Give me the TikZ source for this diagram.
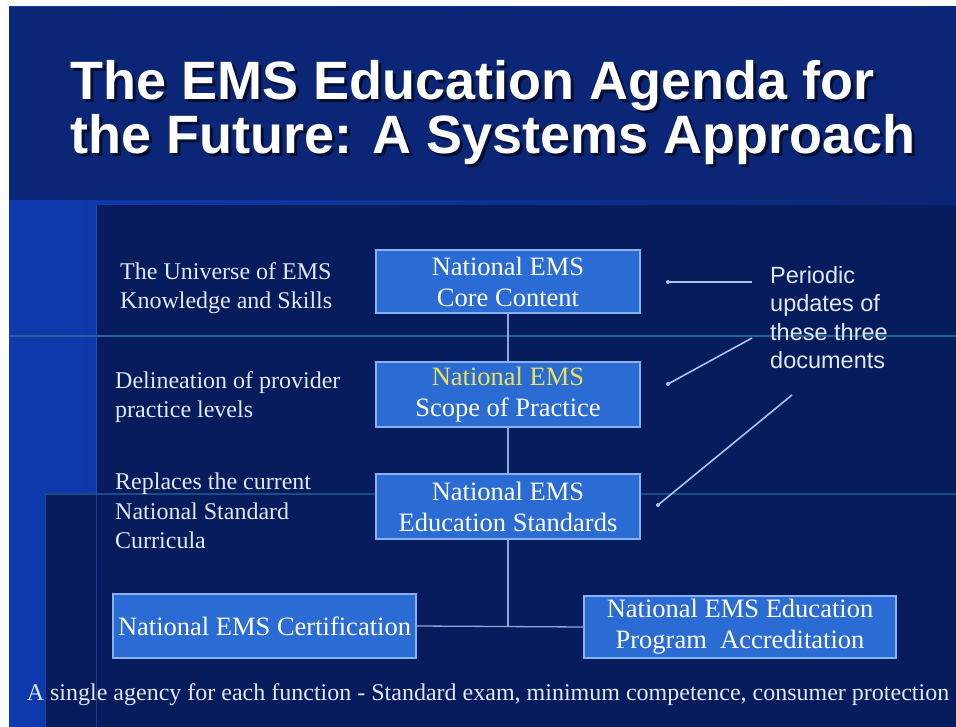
\documentclass[tikz,border=0pt]{standalone}
\usepackage{fontspec}
\setmainfont{Liberation Serif}
\newfontfamily\arialfont{Liberation Sans}
\definecolor{slidebg}{RGB}{11,38,118}
\definecolor{slideleft}{RGB}{14,58,175}
\definecolor{panel}{RGB}{6,28,92}
\definecolor{boxfill}{RGB}{43,108,212}
\definecolor{boxedge}{RGB}{135,178,238}
\definecolor{conn}{RGB}{140,168,215}
\definecolor{ptr}{RGB}{170,195,235}
\definecolor{tealline}{RGB}{30,100,150}
\definecolor{textw}{RGB}{225,232,245}
\definecolor{yel}{RGB}{235,225,90}
\definecolor{shadowc}{RGB}{4,14,48}
\newcommand\myshtxt[1]{\rlap{\hspace{3pt}\raisebox{-3pt}{\textcolor{shadowc}{#1}}}#1}
\tikzset{
  docbox/.style={draw=boxedge, line width=1.6pt, fill=boxfill, text=white,
    align=center, inner sep=0pt, font=\fontsize{26.5}{31}\selectfont},
  sidelabel/.style={anchor=west, align=left, text=textw, inner sep=0pt,
    font=\fontsize{24}{29.5}\selectfont},
  titletext/.style={anchor=base west, inner sep=0pt, text=white,
    font=\arialfont\bfseries\fontsize{54}{55}\selectfont},
  connline/.style={draw=conn, line width=1.3pt},
  ptrline/.style={draw=ptr, line width=1.6pt},
  ptrdot/.style={circle, fill=ptr, inner sep=0pt, minimum size=4pt}
}
\begin{document}
\begin{tikzpicture}[x=1pt,y=-1pt]
\useasboundingbox (0,0) rectangle (956,727);
% page / slide
\fill[white] (0,0) rectangle (956,727);
\shade[left color=slideleft, right color=slidebg, shading angle=90] (9,7) rectangle (956,727);
\fill[slidebg] (9,7) rectangle (956,200);
% panels
\fill[panel] (97,205) rectangle (956,727);
\fill[panel] (45,495) rectangle (956,727);
\draw[tealline, line width=1.5pt] (9,336) -- (956,336);
\draw[color=tealline!70!panel, line width=1.2pt] (45,494) -- (956,494);
\draw[color=slideleft!80!white, line width=0.8pt, opacity=0.5] (96,205) -- (96,727);
\draw[color=slideleft!80!white, line width=0.8pt, opacity=0.5] (45,495) -- (45,727);
% title (with shadow)
\node[titletext] (title1) at (70,100) {\myshtxt{The EMS Education Agenda for}};
\node[titletext] (title2) at (70,154) {\myshtxt{the Future: A Systems Approach}};
% boxes
\node[docbox, minimum width=264pt, minimum height=63pt] (b1) at (508,281.5) {National EMS\\Core Content};
\node[docbox, minimum width=264pt, minimum height=65pt] (b2) at (508,394.5) {\textcolor{yel}{National EMS}\\Scope of Practice};
\node[docbox, minimum width=264pt, minimum height=65pt] (b3) at (508,506.5) {National EMS\\Education Standards};
\node[docbox, minimum width=303pt, minimum height=64pt] (b4) at (264.5,626) {National EMS Certification};
\node[docbox, minimum width=312pt, minimum height=62pt] (b5) at (740,627) {National EMS Education\\Program\ \ Accreditation};
\coordinate (j) at (508,627);
% connectors
\draw[connline] (b1.south) -- (b2.north);
\draw[connline] (b2.south) -- (b3.north);
\draw[connline] (b3.south) -- (j);
\draw[connline] (b4.east) -- (b5.west);
% side labels
\node[sidelabel] (l1) at (120,288) {The Universe of EMS\\Knowledge and Skills};
\node[sidelabel] (l2) at (115,397) {Delineation of provider\\practice levels};
\node[sidelabel] (l3) at (115,511) {Replaces the current\\National Standard\\Curricula};
% right label
\node[anchor=north west, align=left, inner sep=0pt, text=textw,
  font=\arialfont\fontsize{23.5}{28.5}\selectfont] (pu) at (770,266)
  {Periodic\\updates of\\these three\\documents};
% pointers
\node[ptrdot] (d1) at (668,282) {};
\node[ptrdot] (d2) at (668,384) {};
\node[ptrdot] (d3) at (658,505) {};
\coordinate (e1) at (752,282);
\coordinate (e2) at (752,338);
\coordinate (e3) at (792,395);
\draw[ptrline] (d1.center) -- (e1);
\draw[ptrline] (d2.center) -- (e2);
\draw[ptrline] (d3.center) -- (e3);
% bottom text
\node[text=textw, inner sep=0pt, font=\fontsize{24}{28}\selectfont] (bt) at (488,695)
  {A single agency for each function - Standard exam, minimum competence, consumer protection};
\end{tikzpicture}
\end{document}
